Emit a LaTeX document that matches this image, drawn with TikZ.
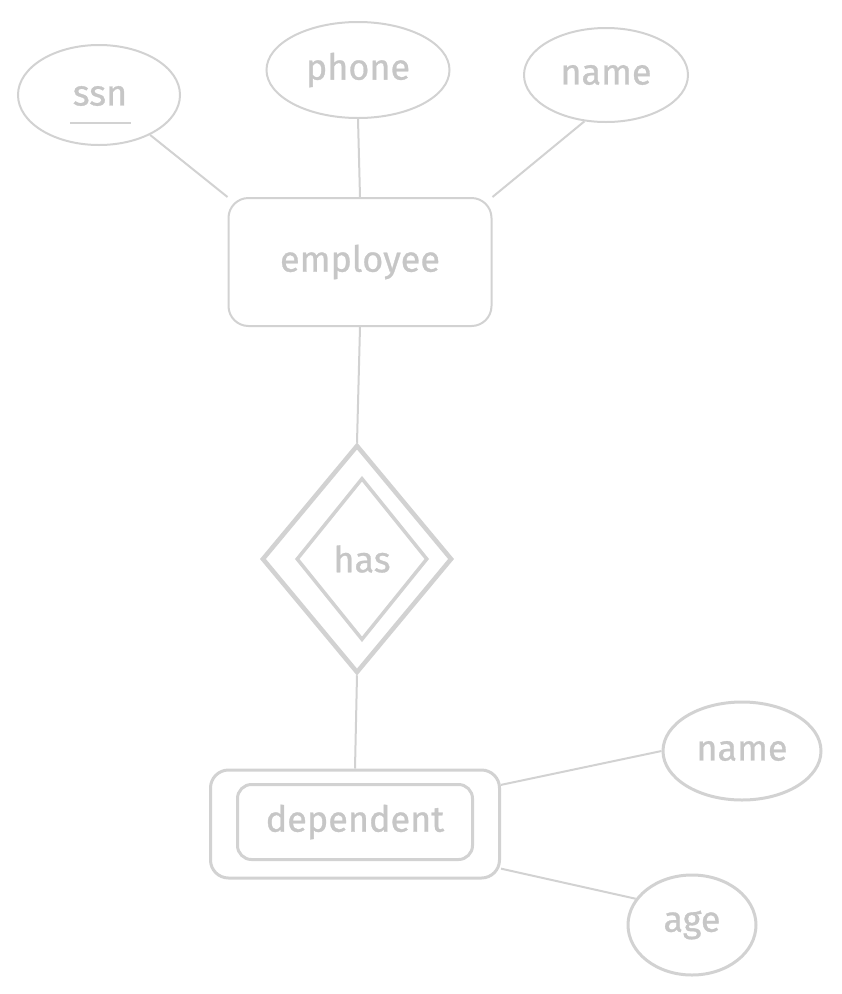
\documentclass[tikz,border=0pt]{standalone}
\usepackage{fontspec}
\setmainfont{Fira Sans}
\newfontfamily\lblfont{Fira Sans}[FakeBold=0.8]
\usetikzlibrary{shapes.geometric}
\definecolor{sk}{HTML}{D2D2D2}
\definecolor{tx}{HTML}{C6C6C6}
\tikzset{
  lbl/.style={text=tx, font=\lblfont\fontsize{36}{40}\selectfont},
  attr/.style={ellipse, draw=sk, line width=2pt, lbl, inner sep=0pt},
  ent/.style={rectangle, rounded corners=20pt, draw=sk, line width=2pt, lbl},
  link/.style={draw=sk, line width=2pt},
}
\begin{document}
\begin{tikzpicture}[x=1pt,y=-1pt]
\useasboundingbox (0,0) rectangle (842,994);
% attributes of employee
\node[attr, minimum width=162pt, minimum height=100pt] (ssn) at (99,95) {};
\node[lbl] (ssnt) at (100,96) {ssn};
\draw[link] (70,123) -- (131,123);
\node[attr, minimum width=183pt, minimum height=96pt] (phone) at (358,70) {phone};
\node[attr, minimum width=164pt, minimum height=94pt] (name1) at (606,75) {name};
% employee
\node[ent, minimum width=263pt, minimum height=128pt] (emp) at (360,262) {employee};
% relationship
\node[diamond, draw=sk, line width=4.5pt, minimum width=190pt, minimum height=228pt, inner sep=0pt] (has) at (357,559) {};
\node[diamond, draw=sk, line width=3.5pt, minimum width=131pt, minimum height=162pt, inner sep=0pt, lbl] (hasin) at (362,559) {has};
% weak entity
\node[rectangle, rounded corners=18pt, draw=sk, line width=3pt, minimum width=289pt, minimum height=108pt] (dep) at (355,824) {};
\node[rectangle, rounded corners=14pt, draw=sk, line width=3pt, minimum width=235pt, minimum height=75pt, lbl] (depin) at (355,822) {dependent};
% attributes of dependent
\node[attr, line width=3pt, minimum width=158pt, minimum height=98pt] (name2) at (742,751) {name};
\node[attr, line width=3pt, minimum width=128pt, minimum height=100pt] (age) at (692,925) {age};
% connectors
\draw[link] (ssn.-38) -- (emp.north west);
\draw[link] (phone.south) -- (emp.north);
\draw[link] (name1.-115) -- (emp.north east);
\draw[link] (emp.south) -- (has.north);
\draw[link] (has.south) -- (dep.north);
\draw[link] (dep.15) -- (name2.west);
\draw[link] (dep.-17) -- (age.155);
\end{tikzpicture}
\end{document}
